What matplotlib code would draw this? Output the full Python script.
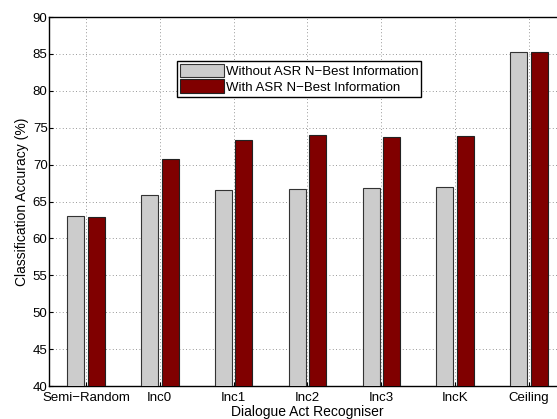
import numpy as np
import matplotlib
matplotlib.use("Agg")
import matplotlib.pyplot as plt

plt.rcParams['font.family'] = ['Liberation Sans', 'DejaVu Sans']

# dati
categorie = ["Semi\u2212Random", "Inc0", "Inc1", "Inc2", "Inc3", "IncK", "Ceiling"]
senza_nbest = [63.0, 65.9, 66.6, 66.7, 66.8, 66.9, 85.3]
con_nbest = [62.9, 70.7, 73.4, 74.0, 73.7, 73.9, 85.3]

x = np.arange(len(categorie))
w = 0.23

fig = plt.figure(figsize=(5.57, 4.19), dpi=100)
ax = fig.add_axes([49/557, 1 - 386/419, (566 - 49)/557, (386 - 17)/419])

ax.bar(x - 0.14, senza_nbest, w, color="#cccccc", edgecolor="#333333", linewidth=0.8,
       label="Without ASR N\u2212Best Information", zorder=3)
ax.bar(x + 0.14, con_nbest, w, color="#800000", edgecolor="#222222", linewidth=0.8,
       label="With ASR N\u2212Best Information", zorder=3)

ax.set_xlim(-0.5, len(categorie) - 0.5)
ax.set_ylim(40, 90)
ax.set_yticks(np.arange(40, 91, 5))
ax.set_xticks(x)
ax.set_xticklabels(categorie)
ax.tick_params(direction="in", labelsize=9.5, length=3, pad=1)
ax.tick_params(axis="x", pad=4)
ax.grid(True, linestyle=(0, (1, 3)), color="#777777", linewidth=0.6, zorder=0)
for s in ax.spines.values():
    s.set_linewidth(1.0)

ax.set_xlabel("Dialogue Act Recogniser", fontsize=10, labelpad=1)
ax.set_ylabel("Classification Accuracy (%)", fontsize=10, labelpad=3)

leg = ax.legend(loc="upper left", bbox_to_anchor=(0.247, 0.882), fontsize=9.5,
                fancybox=False, framealpha=1, edgecolor="black", borderpad=0.25,
                handlelength=3.3, handleheight=1.2, labelspacing=0.1, handletextpad=0.15,
                borderaxespad=0)
leg.get_frame().set_linewidth(1.0)

plt.savefig("out.png", dpi=100)
